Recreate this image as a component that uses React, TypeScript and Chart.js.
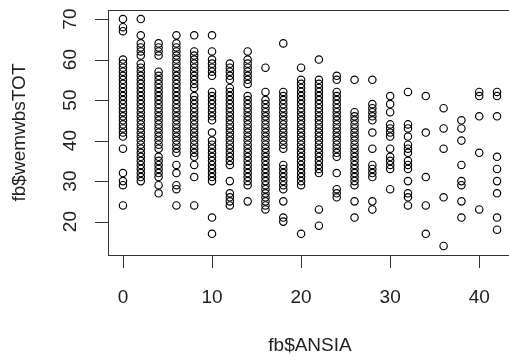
import React, { useEffect, useRef } from 'react';
import { Chart, registerables } from 'chart.js';

Chart.register(...registerables);

const xTicks = [0, 10, 20, 30, 40];
const yTicks = [20, 30, 40, 50, 60, 70];
const xTitle = 'fb$ANSIA';
const yTitle = 'fb$wemwbsTOT';

const ansia = [0, 2, 4, 6, 8, 10, 12, 14, 16, 18, 20, 22, 24, 26, 28, 30, 32, 34, 36, 38, 40, 42];

const w0 = [70, 68, 67, 60, 59, 58, 57, 56, 55, 54, 53, 52, 51, 50, 49, 48, 47, 46, 45, 44, 43, 42, 41, 38, 32, 30, 29, 24];
const w2 = [70, 66, 64, 63, 62, 61, 59, 58, 57, 56, 55, 54, 53, 52, 51, 50, 49, 48, 47, 46, 45, 44, 43, 42, 41, 40, 39, 38, 37, 36, 35, 34, 33, 32, 31, 30];
const w4 = [64, 63, 62, 61, 57, 56, 55, 54, 53, 52, 51, 50, 49, 48, 47, 46, 45, 44, 43, 42, 41, 40, 39, 38, 36, 35, 34, 33, 32, 31, 29, 27];
const w6 = [66, 64, 63, 62, 61, 60, 59, 58, 57, 56, 55, 54, 53, 52, 51, 50, 49, 48, 47, 46, 45, 44, 43, 42, 41, 40, 39, 38, 37, 34, 32, 29, 28, 24];
const w8 = [66, 62, 61, 60, 59, 58, 57, 56, 55, 54, 53, 51, 50, 49, 48, 47, 46, 45, 44, 43, 42, 41, 40, 39, 38, 37, 36, 34, 31, 24];
const w10 = [66, 62, 60, 59, 58, 57, 56, 52, 51, 50, 49, 48, 47, 46, 45, 42, 40, 39, 38, 37, 36, 35, 34, 33, 32, 31, 30, 21, 17];
const w12 = [59, 58, 57, 56, 55, 53, 52, 51, 50, 49, 48, 47, 46, 45, 44, 43, 42, 41, 40, 39, 38, 37, 36, 35, 34, 30, 27, 26, 25, 24];
const w14 = [62, 60, 59, 58, 57, 56, 55, 54, 51, 50, 49, 48, 47, 46, 45, 44, 43, 42, 41, 40, 39, 38, 37, 36, 35, 34, 33, 32, 31, 30, 29, 25];
const w16 = [58, 52, 50, 49, 48, 47, 46, 45, 44, 43, 42, 41, 40, 39, 38, 37, 36, 35, 34, 33, 32, 31, 30, 29, 28, 27, 26, 25, 24, 23];
const w18 = [64, 52, 51, 50, 49, 48, 47, 46, 45, 44, 43, 42, 41, 40, 39, 38, 34, 33, 32, 31, 30, 29, 28, 25, 21, 20];
const w20 = [58, 55, 54, 53, 52, 51, 50, 49, 48, 47, 46, 45, 44, 43, 42, 41, 40, 39, 38, 37, 36, 35, 34, 33, 32, 31, 30, 29, 17];
const w22 = [60, 55, 54, 53, 52, 51, 50, 49, 48, 47, 46, 45, 44, 43, 42, 41, 40, 39, 38, 37, 36, 35, 34, 33, 32, 23, 19];
const w24 = [56, 55, 52, 51, 50, 49, 48, 47, 46, 45, 44, 43, 42, 41, 40, 39, 38, 37, 36, 32, 28, 27, 26];
const w26 = [55, 47, 46, 45, 44, 43, 42, 41, 40, 39, 38, 37, 36, 35, 34, 33, 32, 31, 30, 29, 25, 21];
const w28 = [55, 49, 48, 47, 46, 45, 42, 38, 34, 33, 32, 31, 25, 23];
const w30 = [51, 49, 47, 44, 43, 42, 41, 38, 36, 35, 34, 33, 28];
const w32 = [52, 44, 43, 41, 39, 38, 37, 35, 34, 33, 30, 27, 26, 24];
const w34 = [51, 42, 31, 24, 17];
const w36 = [48, 43, 38, 26, 14];
const w38 = [45, 43, 40, 34, 30, 29, 25, 21];
const w40 = [52, 51, 46, 37, 23];
const w42 = [52, 51, 46, 36, 33, 30, 27, 21, 18];

const wemwbsByAnsia = [w0, w2, w4, w6, w8, w10, w12, w14, w16, w18, w20, w22, w24, w26, w28, w30, w32, w34, w36, w38, w40, w42];

const TEXT = '#222';
const FONT = '19px "Liberation Sans", Arial, sans-serif';

const rAxesPlugin = {
  id: 'rAxes',
  afterDraw(chart: any) {
    const { ctx, chartArea } = chart;
    const xs = chart.scales.x;
    const ys = chart.scales.y;
    const { left, top, right, bottom } = chartArea;
    ctx.save();
    ctx.strokeStyle = '#333';
    ctx.lineWidth = 1;
    ctx.strokeRect(Math.round(left) + 0.5, Math.round(top) + 0.5, Math.round(right - left), Math.round(bottom - top));
    ctx.fillStyle = TEXT;
    ctx.font = FONT;
    ctx.beginPath();
    xTicks.forEach((v) => {
      const px = Math.round(xs.getPixelForValue(v)) + 0.5;
      ctx.moveTo(px, bottom);
      ctx.lineTo(px, bottom + 13);
    });
    yTicks.forEach((v) => {
      const py = Math.round(ys.getPixelForValue(v)) + 0.5;
      ctx.moveTo(left, py);
      ctx.lineTo(left - 13, py);
    });
    ctx.stroke();
    ctx.textAlign = 'center';
    ctx.textBaseline = 'middle';
    xTicks.forEach((v) => {
      ctx.fillText(String(v), xs.getPixelForValue(v), bottom + 43);
    });
    yTicks.forEach((v) => {
      ctx.save();
      ctx.translate(left - 37, ys.getPixelForValue(v));
      ctx.rotate(-Math.PI / 2);
      ctx.fillText(String(v), 0, 0);
      ctx.restore();
    });
    ctx.fillText(xTitle, (left + right) / 2, bottom + 91);
    ctx.save();
    ctx.translate(20, (top + bottom) / 2);
    ctx.rotate(-Math.PI / 2);
    ctx.fillText(yTitle, 0, 0);
    ctx.restore();
    ctx.restore();
  },
};

export default function App() {
  const ref = useRef<HTMLCanvasElement>(null);
  useEffect(() => {
    if (!ref.current) return;
    const data: { x: number; y: number }[] = [];
    ansia.forEach((a, i) => {
      wemwbsByAnsia[i].forEach((w) => data.push({ x: a, y: w }));
    });
    const chart = new Chart(ref.current, {
      type: 'scatter',
      data: {
        datasets: [
          {
            data,
            pointRadius: 3.7,
            pointHoverRadius: 3.7,
            pointBorderWidth: 1.15,
            borderColor: '#000',
            pointBorderColor: '#000',
            pointBackgroundColor: 'rgba(0,0,0,0)',
            backgroundColor: 'rgba(0,0,0,0)',
          },
        ],
      },
      options: {
        animation: false,
        responsive: false,
        maintainAspectRatio: false,
        layout: { padding: { left: 108, top: 10, right: 18, bottom: 105 } },
        plugins: { legend: { display: false }, tooltip: { enabled: false } },
        scales: {
          x: { type: 'linear', min: -1.68, max: 43.68, display: false },
          y: { type: 'linear', min: 11.76, max: 72.24, display: false },
        },
      },
      plugins: [rAxesPlugin],
    });
    return () => chart.destroy();
  }, []);
  return (
    <div style={{ position: 'fixed', left: 0, top: 0, width: 509, height: 360, overflow: 'hidden', background: '#fff' }}>
      <canvas ref={ref} width={530} height={360} style={{ display: 'block', width: 530, height: 360 }} />
    </div>
  );
}
